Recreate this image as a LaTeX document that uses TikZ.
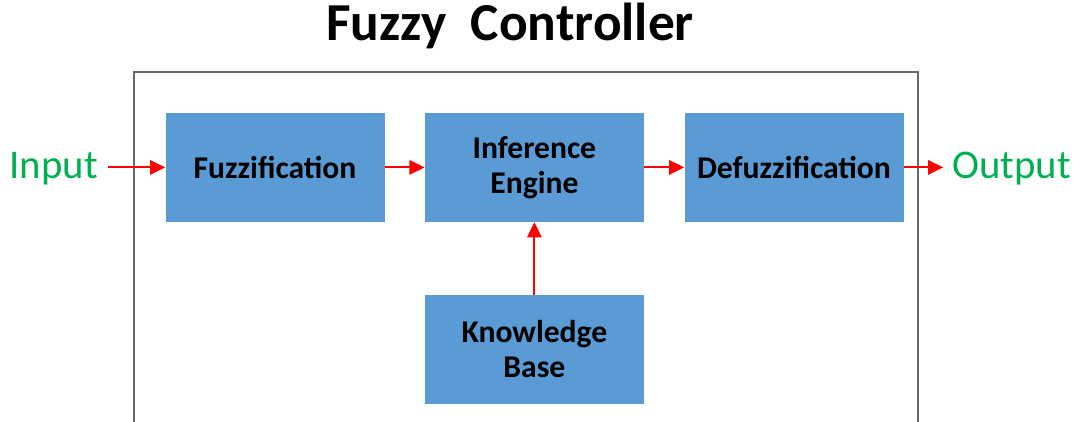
\documentclass[tikz,border=0pt]{standalone}
\usepackage{fontspec}
\setmainfont{Carlito}
\usetikzlibrary{arrows.meta,positioning}
\definecolor{blockblue}{RGB}{91,155,213}
\definecolor{iogreen}{RGB}{0,176,80}
\definecolor{framegray}{RGB}{105,105,105}

\begin{document}
\begin{tikzpicture}[
  block/.style={rectangle, fill=blockblue, minimum width=5.475cm, minimum height=2.725cm,
                inner sep=3pt, align=center, font=\fontsize{22.5}{25}\selectfont\bfseries},
  io/.style={text=iogreen, inner sep=0pt, font=\fontsize{29}{34}\selectfont},
  sig/.style={-{Triangle[length=3.8mm, width=3.6mm]}, draw=red, line width=1.4pt},
  hdr/.style={inner sep=0pt, font=\fontsize{38}{44}\selectfont\bfseries},
]
\useasboundingbox (0,0) rectangle (27,10.525);

% ============================================================
% controller frame (open at the bottom) and its title
% ============================================================
\draw[framegray, line width=1.2pt] (3.35,-0.3) -- (3.35,8.725) -- (22.95,8.725) -- (22.95,-0.3);
\node[hdr, anchor=base] (title) at (12.75,9.525) {Fuzzy\ \ Controller};

% ============================================================
% BLOCKS
% ============================================================
\def\yt{6.34}\def\yb{1.79}
\node[block] (fuzz)   at (6.875,\yt) {Fuzzification};
\node[block] (inf)    at (13.36,\yt) {Inference\\Engine};
\node[block] (defuzz) at (19.85,\yt) {Defuzzification};
\node[block] (kb)     at (13.36,\yb) {Knowledge\\Base};

% signal in / out
\node[io, anchor=base east] (in)  at (2.45,6.075) {Input};
\node[io, anchor=base west] (out) at (23.8,6.075) {Output};

% ============================================================
% ARROWS
% ============================================================
\draw[sig, shorten <=2.5mm] (in.east |- fuzz) -- (fuzz);
\draw[sig] (fuzz) -- (inf);
\draw[sig] (inf) -- (defuzz);
\draw[sig, shorten >=2.2mm] (defuzz) -- (out.west |- defuzz);
\draw[sig] (kb) -- (inf);

\end{tikzpicture}
\end{document}
